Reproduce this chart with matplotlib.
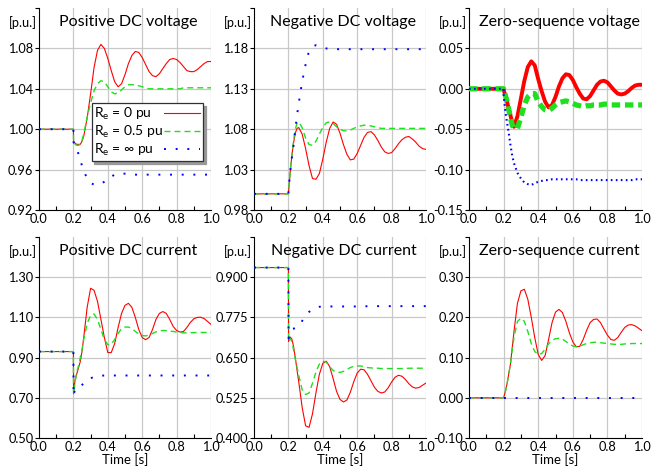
import numpy as np
import matplotlib
matplotlib.use("Agg")
import matplotlib.pyplot as plt
from matplotlib.ticker import FixedLocator

plt.rcParams['font.family'] = ['Lato', 'DejaVu Sans']
plt.rcParams['mathtext.default'] = 'regular'

# common time samples [s]
t = [0.0, 0.2, 0.201, 0.21, 0.22, 0.23, 0.24, 0.25, 0.26, 0.28, 0.30, 0.32, 0.34, 0.36,
     0.38, 0.40, 0.42, 0.44, 0.46, 0.48, 0.50, 0.52, 0.54, 0.56, 0.58, 0.60, 0.62, 0.64,
     0.66, 0.68, 0.70, 0.72, 0.74, 0.76, 0.78, 0.80, 0.82, 0.84, 0.86, 0.88, 0.90, 0.92,
     0.94, 0.96, 0.98, 1.00]

# Positive DC voltage
vpos_r0 = [1.0, 1.0, 0.988, 0.986, 0.985, 0.985, 0.985, 0.988, 0.993, 1.011, 1.035, 1.061, 1.078, 1.084,
           1.080, 1.070, 1.058, 1.047, 1.042, 1.045, 1.054, 1.065, 1.073, 1.077, 1.076, 1.071, 1.064, 1.057,
           1.053, 1.052, 1.055, 1.060, 1.065, 1.069, 1.070, 1.069, 1.066, 1.062, 1.058, 1.057, 1.057, 1.059,
           1.062, 1.065, 1.067, 1.067]
vpos_r05 = [1.0, 1.0, 0.986, 0.985, 0.984, 0.984, 0.985, 0.989, 0.995, 1.012, 1.026, 1.038, 1.045, 1.048,
            1.047, 1.042, 1.037, 1.035, 1.036, 1.039, 1.042, 1.044, 1.044, 1.044, 1.043, 1.042, 1.041, 1.040,
            1.040, 1.040, 1.040, 1.040, 1.040, 1.040, 1.040, 1.040, 1.040, 1.041, 1.041, 1.041, 1.041, 1.041,
            1.041, 1.041, 1.041, 1.041]
vpos_rinf = [1.0, 1.0, 0.987, 0.984, 0.981, 0.975, 0.969, 0.964, 0.959, 0.951, 0.947, 0.945, 0.945, 0.946,
             0.948, 0.951, 0.953, 0.955, 0.956, 0.956, 0.956, 0.956, 0.955, 0.955, 0.955, 0.955, 0.955, 0.955,
             0.955, 0.955, 0.955, 0.955, 0.955, 0.955, 0.955, 0.955, 0.955, 0.955, 0.955, 0.955, 0.955, 0.955,
             0.955, 0.955, 0.955, 0.955]

# Negative DC voltage
vneg_r0 = [1.0, 1.0, 1.003, 1.026, 1.047, 1.063, 1.075, 1.081, 1.082, 1.074, 1.056, 1.035, 1.019, 1.018,
           1.025, 1.043, 1.064, 1.081, 1.089, 1.086, 1.075, 1.061, 1.049, 1.042, 1.043, 1.050, 1.060, 1.070,
           1.076, 1.077, 1.073, 1.066, 1.058, 1.052, 1.050, 1.051, 1.056, 1.062, 1.067, 1.070, 1.071, 1.068,
           1.064, 1.059, 1.056, 1.055]
vneg_r05 = [1.0, 1.0, 1.003, 1.026, 1.048, 1.066, 1.080, 1.087, 1.089, 1.082, 1.069, 1.061, 1.060, 1.065,
            1.074, 1.082, 1.088, 1.089, 1.087, 1.083, 1.080, 1.078, 1.078, 1.079, 1.081, 1.083, 1.084, 1.085,
            1.085, 1.084, 1.083, 1.082, 1.081, 1.081, 1.081, 1.081, 1.081, 1.081, 1.081, 1.081, 1.081, 1.081,
            1.081, 1.081, 1.081, 1.081]
vneg_rinf = [1.0, 1.0, 1.004, 1.027, 1.044, 1.060, 1.079, 1.097, 1.112, 1.139, 1.160, 1.177, 1.182, 1.184,
             1.183, 1.181, 1.180, 1.179, 1.179, 1.179, 1.179, 1.179, 1.179, 1.179, 1.179, 1.179, 1.179, 1.179,
             1.179, 1.179, 1.179, 1.179, 1.179, 1.179, 1.179, 1.179, 1.179, 1.179, 1.179, 1.179, 1.179, 1.179,
             1.179, 1.179, 1.179, 1.179]

# Zero-sequence voltage
vzero_r0 = [0.0, 0.0, -0.002, -0.008, -0.016, -0.025, -0.033, -0.042, -0.047, -0.034, -0.012, 0.010, 0.027, 0.034,
            0.029, 0.012, -0.003, -0.016, -0.023, -0.020, -0.010, 0.003, 0.013, 0.018, 0.017, 0.011, 0.002, -0.006,
            -0.012, -0.013, -0.009, -0.002, 0.005, 0.009, 0.010, 0.008, 0.003, -0.002, -0.006, -0.007, -0.006, -0.003,
            0.001, 0.004, 0.005, 0.005]
vzero_r05 = [0.0, 0.0, -0.002, -0.008, -0.016, -0.026, -0.036, -0.045, -0.049, -0.049, -0.035, -0.020, -0.010, -0.006,
             -0.006, -0.016, -0.022, -0.026, -0.027, -0.024, -0.020, -0.017, -0.016, -0.015, -0.016, -0.018, -0.020, -0.021,
             -0.022, -0.021, -0.021, -0.020, -0.020, -0.020, -0.019, -0.019, -0.020, -0.020, -0.020, -0.020, -0.020, -0.020,
             -0.020, -0.020, -0.020, -0.020]
vzero_rinf = [0.0, 0.0, -0.010, -0.028, -0.042, -0.055, -0.070, -0.083, -0.092, -0.104, -0.111, -0.116, -0.118, -0.119,
              -0.117, -0.115, -0.114, -0.113, -0.113, -0.112, -0.112, -0.112, -0.112, -0.112, -0.112, -0.112, -0.112, -0.113,
              -0.113, -0.113, -0.113, -0.113, -0.113, -0.113, -0.113, -0.113, -0.113, -0.113, -0.113, -0.113, -0.113, -0.113,
              -0.113, -0.112, -0.112, -0.112]

# Positive DC current
ipos_r0 = [0.93, 0.93, 0.72, 0.79, 0.82, 0.85, 0.88, 0.93, 1.00, 1.15, 1.245, 1.235, 1.18, 1.09,
           1.00, 0.925, 0.925, 0.97, 1.05, 1.12, 1.16, 1.17, 1.15, 1.10, 1.04, 1.00, 0.989, 1.00,
           1.04, 1.09, 1.12, 1.129, 1.12, 1.09, 1.055, 1.035, 1.027, 1.03, 1.05, 1.075, 1.093, 1.10,
           1.101, 1.094, 1.08, 1.065]
ipos_r05 = [0.93, 0.93, 0.72, 0.78, 0.83, 0.86, 0.90, 0.94, 0.99, 1.07, 1.11, 1.117, 1.09, 1.04,
            0.99, 0.964, 0.967, 0.99, 1.02, 1.045, 1.052, 1.052, 1.045, 1.03, 1.018, 1.01, 1.008, 1.012,
            1.02, 1.028, 1.033, 1.035, 1.034, 1.032, 1.030, 1.027, 1.025, 1.023, 1.023, 1.024, 1.024, 1.025,
            1.025, 1.025, 1.025, 1.025]
ipos_rinf = [0.93, 0.93, 0.71, 0.745, 0.749, 0.752, 0.757, 0.764, 0.772, 0.786, 0.797, 0.804, 0.808, 0.810,
             0.811, 0.811, 0.811, 0.811, 0.811, 0.811, 0.811, 0.811, 0.811, 0.811, 0.811, 0.811, 0.811, 0.811,
             0.811, 0.811, 0.811, 0.811, 0.811, 0.811, 0.811, 0.811, 0.811, 0.811, 0.811, 0.811, 0.811, 0.811,
             0.811, 0.811, 0.811, 0.811]

# Negative DC current
ineg_r0 = [0.93, 0.93, 0.70, 0.714, 0.708, 0.685, 0.650, 0.612, 0.575, 0.495, 0.438, 0.433, 0.475, 0.540,
           0.598, 0.632, 0.639, 0.622, 0.585, 0.545, 0.520, 0.512, 0.518, 0.542, 0.575, 0.602, 0.614, 0.612,
           0.598, 0.578, 0.558, 0.545, 0.540, 0.543, 0.556, 0.574, 0.589, 0.595, 0.592, 0.582, 0.569, 0.559,
           0.555, 0.557, 0.564, 0.571]
ineg_r05 = [0.93, 0.93, 0.70, 0.71, 0.70, 0.675, 0.645, 0.620, 0.595, 0.550, 0.535, 0.540, 0.570, 0.605,
            0.630, 0.639, 0.636, 0.622, 0.610, 0.605, 0.604, 0.607, 0.613, 0.619, 0.623, 0.624, 0.624, 0.622,
            0.619, 0.618, 0.617, 0.617, 0.616, 0.616, 0.616, 0.616, 0.616, 0.616, 0.616, 0.616, 0.617, 0.617,
            0.617, 0.617, 0.617, 0.617]
ineg_rinf = [0.93, 0.93, 0.71, 0.735, 0.739, 0.740, 0.742, 0.745, 0.748, 0.764, 0.779, 0.792, 0.800, 0.805,
             0.808, 0.809, 0.809, 0.809, 0.809, 0.809, 0.809, 0.809, 0.809, 0.809, 0.809, 0.809, 0.809, 0.809,
             0.810, 0.810, 0.810, 0.810, 0.810, 0.810, 0.810, 0.810, 0.810, 0.810, 0.810, 0.810, 0.810, 0.810,
             0.810, 0.810, 0.810, 0.810]

# Zero-sequence current
izero_r0 = [0.0, 0.0, 0.002, 0.015, 0.035, 0.060, 0.085, 0.125, 0.165, 0.235, 0.266, 0.270, 0.245, 0.200,
            0.150, 0.108, 0.093, 0.105, 0.145, 0.187, 0.213, 0.220, 0.212, 0.190, 0.162, 0.139, 0.127, 0.128,
            0.145, 0.168, 0.187, 0.195, 0.196, 0.187, 0.171, 0.156, 0.145, 0.143, 0.150, 0.163, 0.175, 0.181,
            0.182, 0.179, 0.173, 0.167]
izero_r05 = [0.0, 0.0, 0.002, 0.015, 0.035, 0.060, 0.085, 0.120, 0.150, 0.190, 0.198, 0.190, 0.165, 0.135,
             0.115, 0.108, 0.110, 0.121, 0.134, 0.143, 0.147, 0.148, 0.146, 0.140, 0.134, 0.129, 0.127, 0.128,
             0.132, 0.135, 0.137, 0.138, 0.138, 0.137, 0.136, 0.135, 0.134, 0.133, 0.133, 0.133, 0.134, 0.134,
             0.135, 0.135, 0.135, 0.135]
izero_rinf = [0.0] * len(t)

titles = ["Positive DC voltage", "Negative DC voltage", "Zero-sequence voltage",
          "Positive DC current", "Negative DC current", "Zero-sequence current"]
yticks = [[0.92, 0.96, 1.00, 1.04, 1.08, 1.12],
          [0.98, 1.03, 1.08, 1.13, 1.18, 1.23],
          [-0.15, -0.10, -0.05, 0.00, 0.05, 0.10],
          [0.50, 0.70, 0.90, 1.10, 1.30, 1.50],
          [0.400, 0.525, 0.650, 0.775, 0.900, 1.025],
          [-0.10, 0.00, 0.10, 0.20, 0.30, 0.40]]
ydecimals = [2, 2, 2, 2, 3, 2]
labels = [r"R$_e$ = 0 pu", r"R$_e$ = 0.5 pu", r"R$_e$ = $\infty$ pu"]

RED = '#ff0000'
GREEN = '#1fe01f'
BLUE = '#0000ff'


def left_align_legend(fig, leg):
    # text left-aligned, handles stacked in a column on the right
    fig.canvas.draw()
    renderer = fig.canvas.get_renderer()
    widths = [txt.get_window_extent(renderer).width for txt in leg.get_texts()]
    col = leg._legend_handle_box.get_children()[0]
    col.align = 'left'
    for row, w in zip(col.get_children(), widths):
        row.sep += (max(widths) - w) * 72.0 / fig.dpi


def draw_panel(ax, series, k, legend=False):
    thick = (k == 2)
    r0, r05, rinf = series
    ax.plot(t, r0, color=RED, lw=2.8 if thick else 0.8, label=labels[0], zorder=3)
    ax.plot(t, r05, color=GREEN, lw=3.8 if thick else 1.0,
            dashes=(1.6, 0.9) if thick else (4.3, 2.9), label=labels[1], zorder=4)
    ax.plot(t, rinf, color=BLUE, lw=1.5 if thick else 1.4,
            dashes=(0.8, 1.6) if thick else (1, 5), label=labels[2], zorder=5)

    yt = yticks[k]
    ax.set_xlim(0, 1.0)
    ax.set_ylim(yt[0], yt[-1])
    ax.set_xticks([0.0, 0.2, 0.4, 0.6, 0.8, 1.0])
    ax.set_xticklabels(["0.0", "0.2", "0.4", "0.6", "0.8", "1.0"])
    ax.xaxis.set_minor_locator(FixedLocator([0.1, 0.3, 0.5, 0.7, 0.9]))
    ax.set_yticks(yt)
    fmt = "{:.%df}" % ydecimals[k]
    ax.set_yticklabels([fmt.format(v) for v in yt[:-1]] + [""])

    ax.tick_params(axis='x', which='major', length=0, labelsize=9.2, pad=2)
    ax.tick_params(axis='x', which='minor', direction='in', length=3, width=0.8)
    ax.tick_params(axis='y', which='major', direction='out', length=3, width=0.8,
                   labelsize=9.2, pad=1)

    for v in [0.2, 0.4, 0.6, 0.8, 1.0]:
        ax.axvline(v, color='#c8c8c8', lw=0.9, zorder=1)
    for v in yt[1:-1]:
        ax.axhline(v, color='#c8c8c8', lw=0.9, zorder=1)

    ax.spines['top'].set_visible(False)
    ax.spines['right'].set_visible(False)
    ax.spines['left'].set_linewidth(0.8)
    ax.spines['bottom'].set_linewidth(0.8)

    ax.text(0.52, 0.93, titles[k], transform=ax.transAxes, ha='center', va='center',
            fontsize=11.5)
    ax.text(-0.015, 0.93, "[p.u.]", transform=ax.transAxes, ha='right', va='center',
            fontsize=9.2)
    if k >= 3:
        ax.set_xlabel("Time [s]", fontsize=9.5, labelpad=0)

    if legend:
        leg = ax.legend(loc='upper right', bbox_to_anchor=(0.953, 0.53), borderaxespad=0,
                        markerfirst=False, fontsize=10, handlelength=2.6, handletextpad=0.05,
                        labelspacing=0.15, borderpad=0.2, fancybox=False, framealpha=1,
                        edgecolor='#303030', shadow={'color': '0.6', 'alpha': 1})
        leg.get_frame().set_linewidth(0.9)
        return leg
    return None


def main():
    fig = plt.figure(figsize=(6.52, 4.71), dpi=100)
    lefts = [39 / 652, 254 / 652, 469 / 652]
    widths = [172 / 652, 172 / 652, 173 / 652]
    bottoms = [(471 - 210) / 471, (471 - 438) / 471]
    heights = [202 / 471, 201 / 471]

    data = [(vpos_r0, vpos_r05, vpos_rinf),
            (vneg_r0, vneg_r05, vneg_rinf),
            (vzero_r0, vzero_r05, vzero_rinf),
            (ipos_r0, ipos_r05, ipos_rinf),
            (ineg_r0, ineg_r05, ineg_rinf),
            (izero_r0, izero_r05, izero_rinf)]

    leg = None
    for k, series in enumerate(data):
        row, col = divmod(k, 3)
        ax = fig.add_axes([lefts[col], bottoms[row], widths[col], heights[row]])
        out = draw_panel(ax, series, k, legend=(k == 0))
        if out is not None:
            leg = out

    left_align_legend(fig, leg)
    fig.savefig("out.png", dpi=100)
    plt.close(fig)


if __name__ == "__main__":
    main()
